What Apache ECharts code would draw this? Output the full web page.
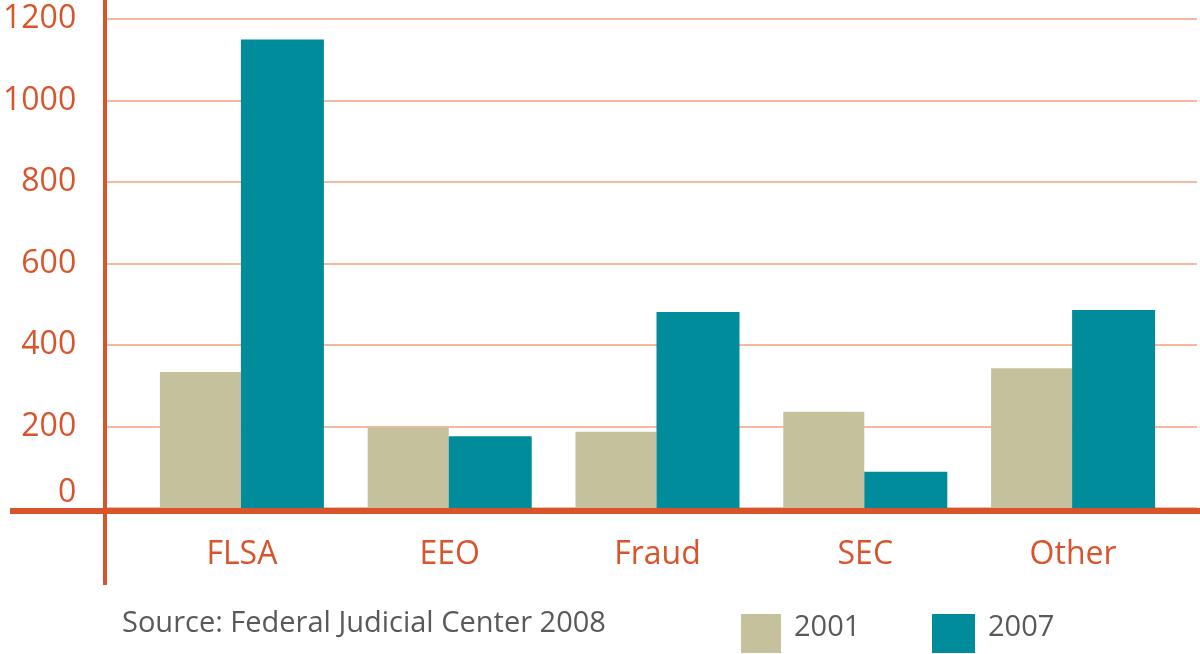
<!DOCTYPE html>
<html>
<head>
<meta charset="utf-8">
<script src="https://cdn.jsdelivr.net/npm/echarts@6/dist/echarts.min.js"></script>
<style>
  html, body { margin: 0; padding: 0; background: #fff; }
  #chart { width: 1200px; height: 654px; }
</style>
</head>
<body>
<div id="chart"></div>
<script>
// data
var categories = ["FLSA", "EEO", "Fraud", "SEC", "Other"];
var values2001 = [334, 198, 187, 236, 343];
var values2007 = [1150, 176, 481, 89, 486];
var seriesNames = ["2001", "2007"];
var sourceNote = "Source: Federal Judicial Center 2008";

var chart = echarts.init(document.getElementById("chart"));
var orange = "#D9542A";
var gridOrange = "#F0A27E";
var tan = "#C4C19C";
var teal = "#008C9A";
var font = "Open Sans";

// legend text sits a little above the swatch centre
var legendText = { fontFamily: font, fontSize: 29, color: "#58595B", lineHeight: 12, padding: [0, 0, 0, 8] };

var option = {
  animation: false,
  color: [tan, teal],
  title: {
    text: sourceNote,
    left: 122,
    top: 609,
    padding: 0,
    textStyle: { fontFamily: font, fontSize: 29, fontWeight: "normal", color: "#58595B" }
  },
  legend: [
    {
      data: [seriesNames[0]],
      left: 741, top: 613, padding: 0,
      itemWidth: 40, itemHeight: 39,
      icon: "rect",
      formatter: "{name}\n ",
      textStyle: legendText
    },
    {
      data: [seriesNames[1]],
      left: 932, top: 613, padding: 0,
      itemWidth: 43, itemHeight: 39,
      icon: "rect",
      formatter: "{name}\n ",
      textStyle: legendText
    }
  ],
  // grid 0: value axis + gridlines, grid 1: the bars
  grid: [
    { left: 105, right: 3, top: 19, bottom: 146 },
    { left: 138, right: 23, top: 19, bottom: 146 }
  ],
  xAxis: [
    { gridIndex: 0, type: "category", data: categories, show: false },
    {
      gridIndex: 1,
      type: "category",
      data: categories,
      axisLine: { show: false },
      axisTick: { show: false },
      axisLabel: { fontFamily: font, fontSize: 32, color: orange, margin: 31 }
    }
  ],
  yAxis: [
    {
      gridIndex: 0,
      type: "value",
      min: 0, max: 1200, interval: 200,
      axisLine: { show: false },
      axisTick: { show: false },
      splitLine: { lineStyle: { color: gridOrange, width: 1.5 } },
      axisLabel: {
        fontFamily: font, fontSize: 32, color: orange, margin: 29, lineHeight: 30,
        formatter: function (v) { return v === 0 ? "0\n " : String(v); }
      }
    },
    { gridIndex: 1, type: "value", min: 0, max: 1200, show: false }
  ],
  series: [
    {
      name: seriesNames[0],
      type: "bar",
      xAxisIndex: 1, yAxisIndex: 1,
      barWidth: 81, barGap: "0%",
      data: values2001
    },
    {
      name: seriesNames[1],
      type: "bar",
      xAxisIndex: 1, yAxisIndex: 1,
      barWidth: 83, barGap: "0%",
      data: values2007
    }
  ],
  graphic: [
    {
      type: "line", z: 100,
      shape: { x1: 105, y1: 0, x2: 105, y2: 585 },
      style: { stroke: orange, lineWidth: 4 }
    },
    {
      type: "line", z: 100,
      shape: { x1: 10, y1: 511, x2: 1200, y2: 511 },
      style: { stroke: orange, lineWidth: 6 }
    }
  ]
};
chart.setOption(option);
</script>
</body>
</html>
